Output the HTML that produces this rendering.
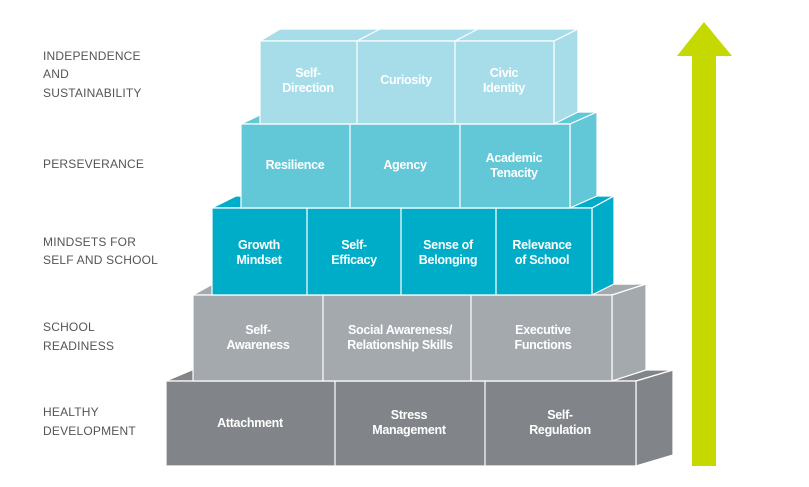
<!DOCTYPE html>
<html><head><meta charset="utf-8"><style>
html,body{margin:0;padding:0;background:#fff;}
svg{display:block;}
.l{font-family:"Liberation Sans",sans-serif;font-size:12px;fill:#555;letter-spacing:0.2px;}
.t{font-family:"Liberation Sans",sans-serif;font-size:12.5px;font-weight:bold;fill:#fff;text-anchor:middle;letter-spacing:-0.3px;}
</style></head><body>
<svg width="809" height="487" viewBox="0 0 809 487" xmlns="http://www.w3.org/2000/svg">
<g stroke="#fff" stroke-width="1.2" stroke-linejoin="round">
<!-- Row 5 -->
<polygon points="166,381 192,370 673,370 636,381" fill="#818488"/>
<polygon points="636,381 673,370 673,455 636,466" fill="#818488"/>
<rect x="166" y="381" width="470" height="85" fill="#818488"/>
<line x1="335" y1="381" x2="335" y2="466"/><line x1="485" y1="381" x2="485" y2="466"/>
<!-- Row 4 -->
<polygon points="193,295 211,285 646,284 612,295" fill="#a4a9ae"/>
<polygon points="612,295 646,284 646,370 612,381" fill="#a4a9ae"/>
<rect x="193" y="295" width="419" height="86" fill="#a4a9ae"/>
<line x1="323" y1="295" x2="323" y2="381"/><line x1="471" y1="295" x2="471" y2="381"/>
<!-- Row 3 -->
<polygon points="212,208 236,196 614,196 592,208" fill="#00adc8"/>
<polygon points="592,208 614,196 614,284 592,295" fill="#00adc8"/>
<rect x="212" y="208" width="380" height="87" fill="#00adc8"/>
<line x1="307" y1="208" x2="307" y2="295"/><line x1="401" y1="208" x2="401" y2="295"/><line x1="496" y1="208" x2="496" y2="295"/>
<!-- Row 2 -->
<polygon points="241,124 264,113 597,112 570,124" fill="#62c8d7"/>
<polygon points="570,124 597,112 597,196 570,208" fill="#62c8d7"/>
<rect x="241" y="124" width="329" height="84" fill="#62c8d7"/>
<line x1="350" y1="124" x2="350" y2="208"/><line x1="460" y1="124" x2="460" y2="208"/>
<!-- Row 1 -->
<polygon points="260,41 280,29 578,29 554,41" fill="#a6dde8"/>
<polygon points="554,41 578,29 578,112 554,124" fill="#a6dde8"/>
<rect x="260" y="41" width="294" height="83" fill="#a6dde8"/>
<line x1="357" y1="41" x2="357" y2="124"/><line x1="455" y1="41" x2="455" y2="124"/>
<line x1="357" y1="41" x2="380" y2="29"/><line x1="455" y1="41" x2="478" y2="29"/>
</g>
<!-- Arrow -->
<rect x="692" y="55" width="24" height="411" fill="#c5d800"/>
<polygon points="704,22 732,56 677,56" fill="#c5d800"/>
<!-- Left labels -->
<text class="l" x="43" y="60">INDEPENDENCE</text>
<text class="l" x="43" y="78">AND</text>
<text class="l" x="43" y="97">SUSTAINABILITY</text>
<text class="l" x="43" y="168">PERSEVERANCE</text>
<text class="l" x="43" y="246">MINDSETS FOR</text>
<text class="l" x="43" y="264">SELF AND SCHOOL</text>
<text class="l" x="43" y="331">SCHOOL</text>
<text class="l" x="43" y="350">READINESS</text>
<text class="l" x="43" y="416">HEALTHY</text>
<text class="l" x="43" y="435">DEVELOPMENT</text>
<!-- Block texts -->
<text class="t" x="308" y="77">Self-</text><text class="t" x="308" y="92">Direction</text>
<text class="t" x="406" y="84">Curiosity</text>
<text class="t" x="504" y="77">Civic</text><text class="t" x="504" y="92">Identity</text>
<text class="t" x="295" y="169">Resilience</text>
<text class="t" x="405" y="169">Agency</text>
<text class="t" x="514" y="162">Academic</text><text class="t" x="514" y="177">Tenacity</text>
<text class="t" x="259" y="249">Growth</text><text class="t" x="259" y="264">Mindset</text>
<text class="t" x="354" y="249">Self-</text><text class="t" x="354" y="264">Efficacy</text>
<text class="t" x="448" y="249">Sense of</text><text class="t" x="448" y="264">Belonging</text>
<text class="t" x="542" y="249">Relevance</text><text class="t" x="542" y="264">of School</text>
<text class="t" x="258" y="334">Self-</text><text class="t" x="258" y="349">Awareness</text>
<text class="t" x="400" y="334">Social Awareness/</text><text class="t" x="400" y="349">Relationship Skills</text>
<text class="t" x="543" y="334">Executive</text><text class="t" x="543" y="349">Functions</text>
<text class="t" x="250" y="427">Attachment</text>
<text class="t" x="409" y="419">Stress</text><text class="t" x="409" y="434">Management</text>
<text class="t" x="560" y="419">Self-</text><text class="t" x="560" y="434">Regulation</text>
</svg>
</body></html>
